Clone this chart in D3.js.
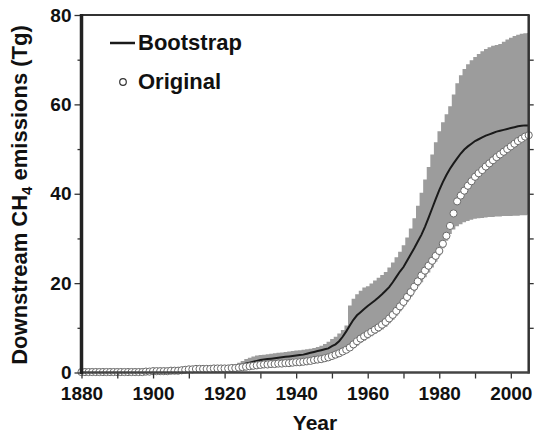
<!DOCTYPE html>
<html>
<head>
<meta charset="utf-8">
<script src="https://cdn.jsdelivr.net/npm/d3@7"></script>
<style>
  body { margin: 0; background: #fff; }
  svg text { font-family: "Liberation Sans", Arial, sans-serif; font-weight: bold; fill: #111; }
</style>
</head>
<body>
<svg id="chart" width="534" height="434"></svg>
<script>
/* DATA: ONE VALUE PER YEAR, 1880-2005 (Tg) */
var years = d3.range(1880, 2006);

var original = [
  0.1,0.1,0.1,0.1,0.1,0.1,0.1,0.1,0.1,0.1,
  0.1,0.1,0.1,0.1,0.1,0.1,0.1,0.1,0.2,0.2,
  0.3,0.3,0.3,0.3,0.3,0.4,0.4,0.4,0.5,0.6,
  0.7,0.7,0.8,0.8,0.8,0.8,0.8,0.9,0.9,0.9,
  0.9,0.9,1.0,1.0,1.1,1.2,1.3,1.4,1.5,1.6,
  1.7,1.8,1.8,1.9,1.9,2.0,2.0,2.1,2.1,2.2,
  2.3,2.3,2.4,2.5,2.6,2.8,2.9,3.0,3.2,3.4,
  3.7,4.0,4.3,4.7,5.1,5.6,6.3,7.0,7.6,8.1,
  8.6,9.1,9.6,10.1,10.7,11.3,12.1,12.9,13.8,14.8,
  15.8,16.9,18.0,19.2,20.4,21.7,22.8,23.9,25.0,26.1,
  27.2,28.8,30.6,32.8,35.6,38.3,39.6,40.7,41.8,42.8,
  43.8,44.6,45.3,46.1,46.8,47.5,48.2,48.8,49.4,50.0,
  50.6,51.2,51.8,52.3,52.8,53.1
];

var bootstrap = [
  0.1,0.1,0.1,0.1,0.1,0.1,0.1,0.1,0.1,0.1,
  0.1,0.1,0.2,0.2,0.2,0.2,0.2,0.2,0.3,0.3,
  0.4,0.4,0.4,0.4,0.4,0.5,0.5,0.5,0.6,0.7,
  0.8,0.8,0.9,0.9,0.9,0.9,1.0,1.0,1.0,1.1,
  1.1,1.2,1.3,1.4,1.6,1.8,2.0,2.2,2.4,2.6,
  2.8,2.9,3.0,3.1,3.2,3.3,3.4,3.5,3.6,3.7,
  3.8,3.9,4.0,4.2,4.4,4.6,4.8,5.0,5.2,5.4,
  5.9,6.3,7.0,8.0,9.2,10.5,11.8,12.8,13.5,14.2,
  14.9,15.5,16.1,16.8,17.5,18.3,19.1,20.2,21.4,22.6,
  23.6,25.0,26.4,27.8,29.3,30.8,32.6,34.6,36.7,38.8,
  40.8,42.6,44.2,45.6,46.8,47.9,49.0,49.9,50.6,51.2,
  51.8,52.2,52.6,53.0,53.3,53.6,53.9,54.1,54.3,54.5,
  54.7,54.9,55.1,55.2,55.3,55.3
];

var upper = [
  0.3,0.3,0.3,0.3,0.3,0.3,0.3,0.3,0.3,0.3,
  0.3,0.3,0.4,0.4,0.4,0.4,0.4,0.4,0.5,0.5,
  0.6,0.6,0.6,0.6,0.6,0.7,0.7,0.7,0.8,0.9,
  1.0,1.0,1.1,1.1,1.1,1.1,1.2,1.2,1.2,1.3,
  1.3,1.4,1.6,1.8,2.2,2.6,3.0,3.3,3.6,3.8,
  3.9,4.0,4.1,4.2,4.3,4.4,4.5,4.6,4.7,4.8,
  4.9,5.0,5.1,5.2,5.3,5.5,5.7,6.0,6.4,6.9,
  7.5,8.0,8.7,9.5,10.5,15.0,16.5,17.5,18.3,19.0,
  19.3,19.9,20.6,21.2,21.8,22.5,23.5,24.6,25.8,27.0,
  28.5,30.2,32.2,34.5,37.3,40.2,43.2,46.0,48.8,51.5,
  54.0,56.0,57.8,59.6,62.2,64.7,66.5,67.9,69.0,69.9,
  70.6,71.3,71.9,72.4,72.8,73.1,73.3,73.5,74.0,74.5,
  74.9,75.3,75.6,75.8,75.9,76.0
];

var lower = [
  0.0,0.0,0.0,0.0,0.0,0.0,0.0,0.0,0.0,0.0,
  0.0,0.0,0.0,0.0,0.0,0.0,0.0,0.0,0.0,0.0,
  0.1,0.1,0.1,0.1,0.1,0.2,0.2,0.2,0.3,0.3,
  0.4,0.4,0.5,0.5,0.5,0.5,0.5,0.6,0.6,0.6,
  0.6,0.6,0.7,0.7,0.8,0.9,1.0,1.1,1.2,1.3,
  1.4,1.4,1.5,1.5,1.6,1.6,1.7,1.7,1.8,1.8,
  1.9,1.9,2.0,2.1,2.2,2.3,2.4,2.5,2.7,2.9,
  3.1,3.3,3.6,3.9,4.3,4.8,5.4,6.0,6.6,7.1,
  7.6,8.1,8.6,9.1,9.6,10.2,11.0,11.8,12.7,13.7,
  14.7,15.8,16.9,18.1,19.3,20.2,21.3,22.4,23.5,24.8,
  26.2,27.8,29.5,31.0,32.0,32.7,33.2,33.6,33.9,34.2,
  34.4,34.5,34.6,34.7,34.8,34.8,34.9,34.9,35.0,35.0,
  35.0,35.1,35.1,35.2,35.2,35.3
];

var yMajorTicks = [0, 20, 40, 60, 80];
var yMinorTicks = [10, 30, 50, 70];
var xTicks = [1880, 1890, 1900, 1910, 1920, 1930, 1940, 1950, 1960, 1970, 1980, 1990, 2000];
var legendLabels = ['Bootstrap', 'Original'];

/* BUILD ROWS FOR THE LIBRARY */
var rows = years.map(function(yr, i) {
  return { year: yr, original: original[i], bootstrap: bootstrap[i], upper: upper[i], lower: lower[i] };
});

/* LAYOUT */
var svg = d3.select('#chart');
var plotLeft = 81.5, plotRight = 528.7, plotTop = 15, plotBottom = 372.5;

var x = d3.scaleLinear().domain([1880, 2005]).range([plotLeft, plotRight]);
var y = d3.scaleLinear().domain([0, 80]).range([plotBottom, plotTop]);

svg.append('defs').append('clipPath').attr('id', 'plot')
  .append('rect').attr('x', plotLeft).attr('y', plotTop)
  .attr('width', plotRight - plotLeft).attr('height', plotBottom - plotTop);

var plot = svg.append('g').attr('clip-path', 'url(#plot)');

/* BOOTSTRAP RANGE (STEPPED BAND) */
plot.append('path')
  .datum(rows)
  .attr('fill', '#9c9c9c')
  .attr('d', d3.area()
    .curve(d3.curveStep)
    .x(function(d) { return x(d.year); })
    .y0(function(d) { return y(d.lower); })
    .y1(function(d) { return y(d.upper); }));

/* BOOTSTRAP MEAN LINE */
plot.append('path')
  .datum(rows)
  .attr('fill', 'none')
  .attr('stroke', '#1a1a1a')
  .attr('stroke-width', 2)
  .attr('d', d3.line()
    .x(function(d) { return x(d.year); })
    .y(function(d) { return y(d.bootstrap); }));

/* ORIGINAL CIRCLES */
svg.append('g').selectAll('circle')
  .data(rows).enter().append('circle')
  .attr('cx', function(d) { return x(d.year); })
  .attr('cy', function(d) { return y(d.original); })
  .attr('r', 3.6)
  .attr('fill', '#fff')
  .attr('stroke', '#6a6a6a')
  .attr('stroke-width', 1);

/* AXES */
var yMajor = svg.append('g').attr('transform', 'translate(' + plotLeft + ',0)')
  .call(d3.axisLeft(y).tickValues(yMajorTicks).tickSize(7).tickPadding(3));
var yMinor = svg.append('g').attr('transform', 'translate(' + plotLeft + ',0)')
  .call(d3.axisLeft(y).tickValues(yMinorTicks).tickSize(4).tickFormat(''));
var yRight = svg.append('g').attr('transform', 'translate(' + plotRight + ',0)')
  .call(d3.axisRight(y).tickValues(yMinorTicks.concat([20, 40, 60])).tickSize(5).tickFormat(''));
var xAxis = svg.append('g').attr('transform', 'translate(0,' + plotBottom + ')')
  .call(d3.axisBottom(x).tickValues(xTicks).tickSize(6).tickPadding(8)
    .tickFormat(function(d) { return d % 20 === 0 ? d : ''; }));

[yMajor, yMinor, yRight, xAxis].forEach(function(g) {
  g.select('.domain').remove();
  g.selectAll('.tick line').attr('stroke', '#333').attr('stroke-width', 1.3);
  g.selectAll('.tick text').attr('font-size', 19);
});

/* FRAME */
svg.append('line').attr('x1', plotLeft - 1).attr('x2', plotRight + 1).attr('y1', plotTop).attr('y2', plotTop)
  .attr('stroke', '#333').attr('stroke-width', 2);
svg.append('line').attr('x1', plotRight).attr('x2', plotRight).attr('y1', plotTop).attr('y2', plotBottom + 1)
  .attr('stroke', '#333').attr('stroke-width', 2.5);
svg.append('line').attr('x1', plotLeft).attr('x2', plotRight + 1).attr('y1', plotBottom).attr('y2', plotBottom)
  .attr('stroke', '#444').attr('stroke-width', 2.5);
svg.append('line').attr('x1', plotLeft).attr('x2', plotLeft).attr('y1', plotTop - 1).attr('y2', plotBottom + 1.5)
  .attr('stroke', '#222').attr('stroke-width', 3.5);

/* AXIS TITLES */
svg.append('text')
  .attr('x', 315).attr('y', 430)
  .attr('text-anchor', 'middle')
  .attr('font-size', 21)
  .text('Year');

var yTitle = svg.append('text')
  .attr('transform', 'translate(27,195) rotate(-90)')
  .attr('text-anchor', 'middle')
  .attr('font-size', 22);
yTitle.append('tspan').text('Downstream CH');
yTitle.append('tspan').attr('font-size', 15).attr('dy', 5).text('4');
yTitle.append('tspan').attr('dy', -5).text(' emissions (Tg)');

/* LEGEND */
svg.append('line').attr('x1', 110).attr('x2', 135).attr('y1', 43).attr('y2', 43)
  .attr('stroke', '#1a1a1a').attr('stroke-width', 2.5);
svg.append('text').attr('x', 138).attr('y', 50).attr('font-size', 22).text(legendLabels[0]);
svg.append('circle').attr('cx', 123).attr('cy', 82).attr('r', 3.3)
  .attr('fill', '#fff').attr('stroke', '#333').attr('stroke-width', 1.2);
svg.append('text').attr('x', 138).attr('y', 89).attr('font-size', 22).text(legendLabels[1]);
</script>
</body>
</html>
